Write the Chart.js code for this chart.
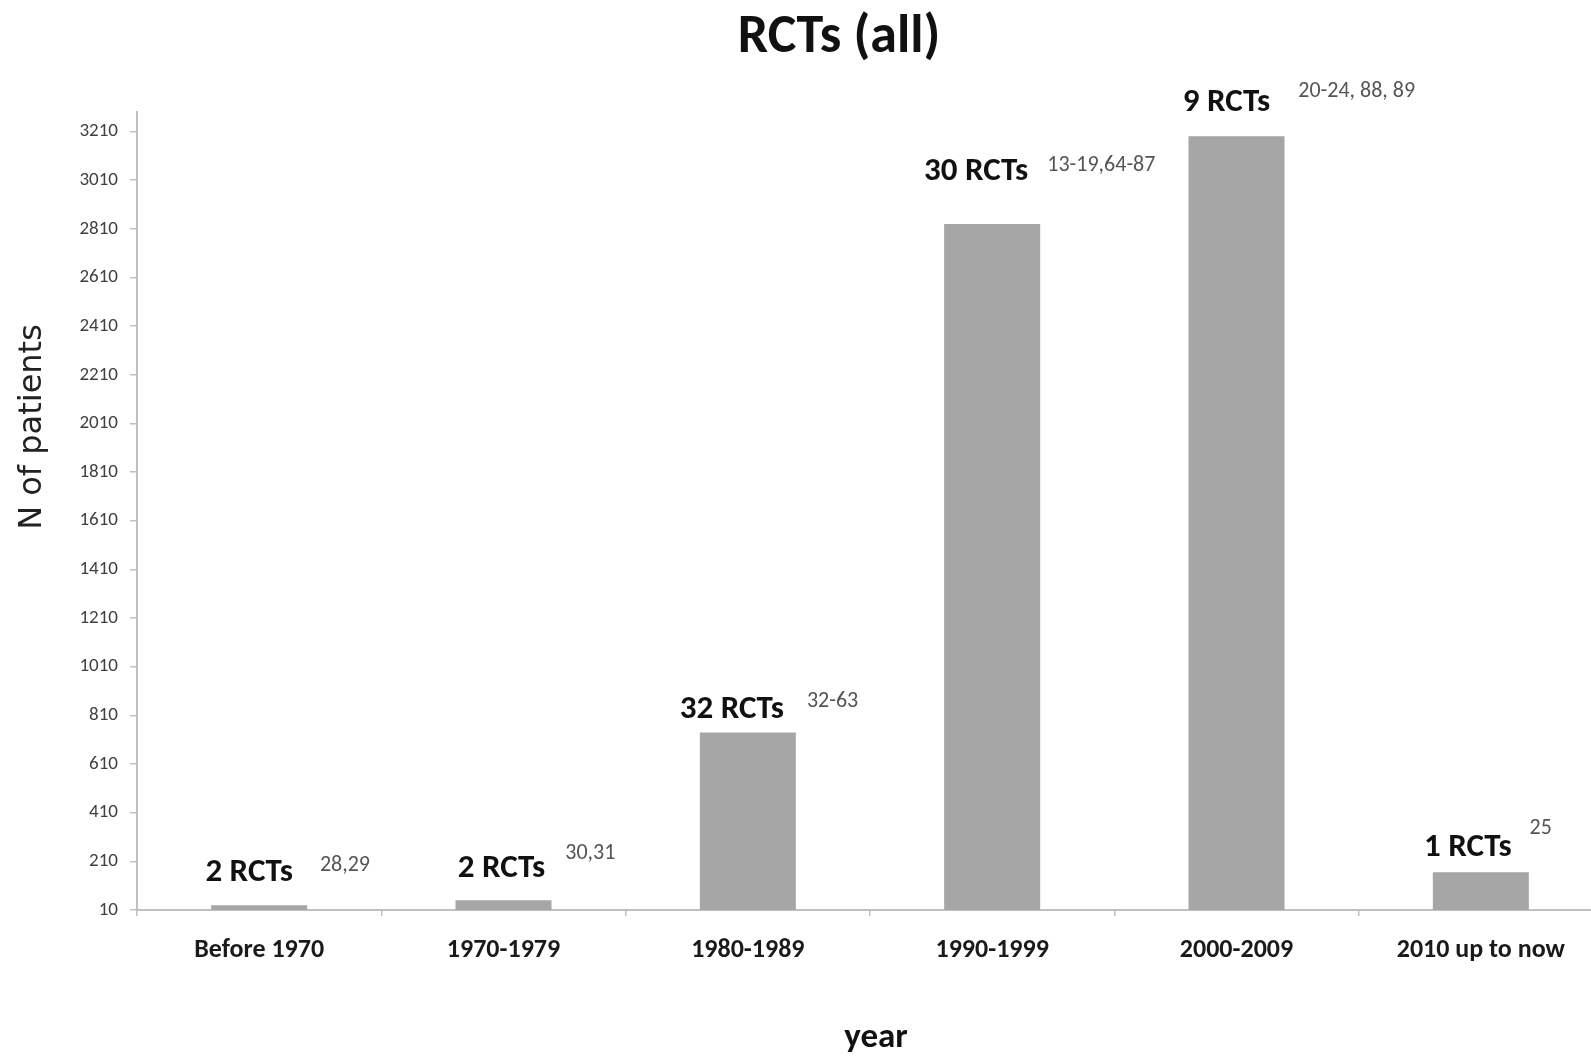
<!DOCTYPE html>
<html>
<head>
<meta charset="utf-8">
<title>RCTs (all)</title>
<script src="https://cdn.jsdelivr.net/npm/chart.js@4.4.1/dist/chart.umd.min.js"></script>
<style>
    html, body { margin: 0; padding: 0; background: #fff; overflow: hidden; }
    #wrap { width: 1612px; height: 1059px; position: relative; }
</style>
</head>
<body>
<div id="wrap"><canvas id="chart"></canvas></div>
<script>
// Daten
const periods = ['Before 1970', '1970-1979', '1980-1989', '1990-1999', '2000-2009', '2010 up to now'];
const patients = [30, 50, 740, 2830, 3190, 165];
const rctLabels = ['2 RCTs', '2 RCTs', '32 RCTs', '30 RCTs', '9 RCTs', '1 RCTs'];
const refLabels = ['28,29', '30,31', '32-63', '13-19,64-87', '20-24, 88, 89', '25'];
const yTicks = [10, 210, 410, 610, 810, 1010, 1210, 1410, 1610, 1810, 2010, 2210, 2410, 2610, 2810, 3010, 3210];

// Beschriftungen ueber den Balken (Versatz in px)
const ANNOT = {
    dx: [-10, -2, -16, -16, -10, -13],
    lift: [32, 32, 23, 52, 34, 25],
    refGap: [27, 20, 23, 19, 28, 18],
    refDy: [-8, -15, -8, -6, -11, -19]
};

const FONT = "Carlito, Lato, 'Open Sans', sans-serif";
const AXIS_GREY = '#c0c0c0';

// ==================== Texte ====================

const textPlugin = {
    id: 'texts',
    afterDraw(chart) {
        const ctx = chart.ctx;
        const bars = chart.getDatasetMeta(0).data;
        ctx.save();

        // Titel
        ctx.fillStyle = '#111';
        ctx.textAlign = 'center';
        ctx.textBaseline = 'middle';
        ctx.font = `bold 54px ${FONT}`;
        ctx.fillText('RCTs (all)', 839, 38);

        // Achsentitel
        ctx.font = `bold 35px ${FONT}`;
        ctx.fillText('year', 876, 1038);

        ctx.save();
        ctx.translate(33, 427);
        ctx.rotate(-Math.PI / 2);
        ctx.font = "32px 'DejaVu Sans', sans-serif";
        ctx.fillStyle = '#222';
        ctx.fillText('N of patients', 0, 0);
        ctx.restore();

        // Anzahl RCTs + Referenzen
        bars.forEach((bar, i) => {
            const cx = bar.x + ANNOT.dx[i];
            const cy = bar.y - ANNOT.lift[i];
            ctx.font = `bold 33px ${FONT}`;
            ctx.fillStyle = '#111';
            ctx.textAlign = 'center';
            ctx.fillText(rctLabels[i], cx, cy);
            const w = ctx.measureText(rctLabels[i]).width;

            ctx.font = `22px ${FONT}`;
            ctx.fillStyle = '#555';
            ctx.textAlign = 'left';
            ctx.fillText(refLabels[i], cx + w / 2 + ANNOT.refGap[i], cy + ANNOT.refDy[i]);
        });

        ctx.restore();
    }
};

// ==================== Chart ====================

function init() {
    const ctx = document.getElementById('chart');
    new Chart(ctx, {
        type: 'bar',
        data: {
            labels: periods,
            datasets: [{
                label: 'N of patients',
                data: patients,
                backgroundColor: '#a6a6a6',
                borderWidth: 0,
                categoryPercentage: 1.0,
                barPercentage: 0.393
            }]
        },
        options: {
            responsive: true,
            maintainAspectRatio: false,
            animation: false,
            layout: { padding: { top: 112, right: 9, bottom: 0, left: 0 } },
            plugins: {
                legend: { display: false },
                tooltip: { enabled: false },
                title: { display: false }
            },
            scales: {
                x: {
                    grid: {
                        display: true,
                        drawOnChartArea: false,
                        drawTicks: true,
                        tickLength: 6,
                        color: AXIS_GREY,
                        lineWidth: 1.5
                    },
                    border: { display: true, color: AXIS_GREY, width: 2 },
                    ticks: {
                        color: '#1a1a1a',
                        padding: 19,
                        maxRotation: 0,
                        autoSkip: false,
                        font: { family: FONT, size: 26, weight: 'bold' }
                    },
                    afterFit(scale) { scale.height = 149; }
                },
                y: {
                    min: 10,
                    max: 3290,
                    grid: {
                        display: true,
                        drawOnChartArea: false,
                        drawTicks: true,
                        tickLength: 7,
                        color: AXIS_GREY,
                        lineWidth: 1.5
                    },
                    border: { display: true, color: AXIS_GREY, width: 2 },
                    ticks: {
                        color: '#404040',
                        padding: 12,
                        font: { family: FONT, size: 19 },
                        callback: v => String(v)
                    },
                    afterBuildTicks(scale) {
                        scale.ticks = yTicks.map(v => ({ value: v }));
                    },
                    afterFit(scale) { scale.width = 137; }
                }
            }
        },
        plugins: [textPlugin]
    });
}

document.addEventListener('DOMContentLoaded', init);
</script>
</body>
</html>
